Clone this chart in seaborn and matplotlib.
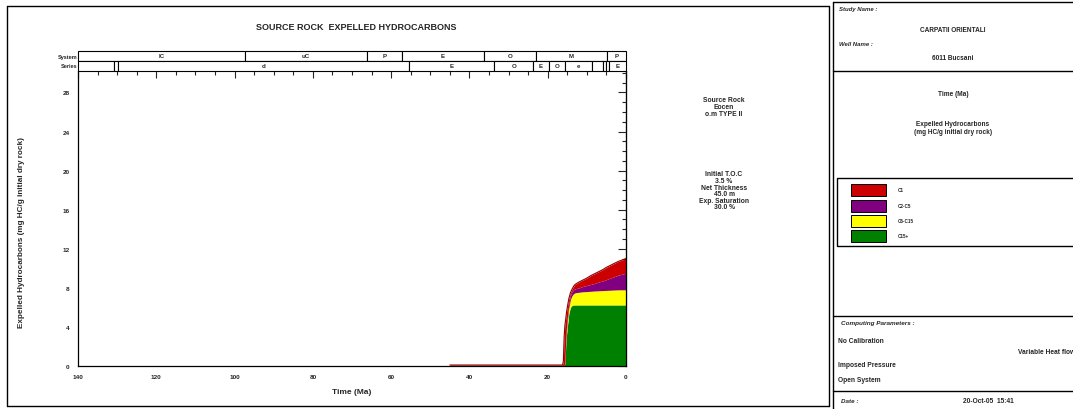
import matplotlib
matplotlib.use("Agg")
import matplotlib.pyplot as plt
from matplotlib.patches import Rectangle
from matplotlib.lines import Line2D
from matplotlib.ticker import MultipleLocator
import seaborn as sns
import pandas as pd
import numpy as np

# ---------------- data ----------------
time_ma = [45, 40, 30, 20, 16.2, 16.0, 15.8, 15.6, 15.4, 15.2, 15.0, 14.6, 14.2, 13.8,
           13.4, 13.0, 12, 11, 10, 9, 8, 7, 6, 5, 4, 3, 2, 1, 0]
c15_plus = [0, 0, 0, 0, 0, 0, 0, 0.3, 2.0, 3.2, 4.0, 5.4, 6.0, 6.2,
            6.25, 6.25, 6.25, 6.25, 6.25, 6.25, 6.25, 6.25, 6.25, 6.25, 6.25, 6.25, 6.25, 6.25, 6.25]
c6_c15 = [0, 0, 0, 0, 0, 0, 0, 0.1, 0.3, 0.4, 0.5, 0.6, 0.8, 1.0,
          1.15, 1.25, 1.3, 1.35, 1.37, 1.4, 1.43, 1.45, 1.47, 1.49, 1.51, 1.53, 1.55, 1.55, 1.55]
c2_c5 = [0, 0, 0, 0, 0, 0, 0, 0.1, 0.3, 0.4, 0.4, 0.4, 0.4, 0.4,
         0.4, 0.4, 0.45, 0.55, 0.63, 0.7, 0.77, 0.9, 0.98, 1.11, 1.24, 1.37, 1.5, 1.6, 1.7]
c1 = [0.1, 0.1, 0.1, 0.1, 0.1, 0.5, 3.0, 3.7, 2.2, 1.5, 1.1, 0.5, 0.3, 0.25,
      0.35, 0.45, 0.6, 0.65, 0.75, 0.9, 1.0, 1.05, 1.15, 1.25, 1.3, 1.35, 1.4, 1.45, 1.5]

series_names = ["C1", "C2-C5", "C6-C15", "C15+"]
series_colors = ["#cc0000", "#800080", "#ffff00", "#008000"]

system_bounds = [140, 97.3, 66.2, 57.3, 36.2, 23.0, 4.9, 0]
system_labels = ["lC", "uC", "P", "E", "O", "M", "P"]
series_bounds = [140, 130.9, 129.9, 55.4, 33.6, 23.8, 19.7, 15.6, 8.6, 5.8, 5.1, 4.3, 0]
series_labels = ["", "", "d", "E", "O", "E", "O", "e", "", "", "", "E"]

x_ticks = [140, 120, 100, 80, 60, 40, 20, 0]
y_ticks = [0, 4, 8, 12, 16, 20, 24, 28]

# ---------------- style ----------------
sns.set_style("white")
plt.rcParams["font.family"] = ["Liberation Sans", "DejaVu Sans"]
plt.rcParams["font.weight"] = "bold"

W, H = 1073, 410
fig = plt.figure(figsize=(W / 100, H / 100), dpi=100)

def fx(px):
    return px / W

def fy(py):
    return 1 - py / H

# main axes
x0, x1, ytop, ybot = 78, 626, 72, 367
ax = fig.add_axes([fx(x0), fy(ybot), fx(x1) - fx(x0), fy(ytop) - fy(ybot)])

df = pd.DataFrame({"time": time_ma, "C15+": c15_plus, "C6-C15": c6_c15,
                   "C2-C5": c2_c5, "C1": c1})
ax.stackplot(df["time"], df["C15+"], df["C6-C15"], df["C2-C5"], df["C1"],
             colors=series_colors[::-1], linewidth=0)
top = df["C15+"] + df["C6-C15"] + df["C2-C5"] + df["C1"]
sns.lineplot(x=df["time"], y=top, ax=ax, color="#8b0000", linewidth=0.8,
             estimator=None, sort=False, legend=False)

ax.set_xlim(140, 0)
ax.set_ylim(0, 30.2)
ax.set_xticks(x_ticks)
ax.set_yticks(y_ticks)
ax.xaxis.set_minor_locator(MultipleLocator(5))
ax.yaxis.set_minor_locator(MultipleLocator(1))
ax.tick_params(axis="both", which="major", direction="inout", length=8, width=0.8,
               labelsize=4.6, pad=2, top=False, right=False)
ax.tick_params(axis="x", which="minor", direction="out", length=3, width=0.8)
ax.tick_params(axis="y", which="minor", direction="in", length=3, width=0.8)
for lab in ax.get_xticklabels() + ax.get_yticklabels():
    lab.set_fontweight("bold")
for s in ax.spines.values():
    s.set_linewidth(0.9)
    s.set_color("black")
ax.spines["top"].set_visible(False)
ax.set_xlabel("Time (Ma)", fontsize=6.0, fontweight="bold", labelpad=6)
ax.set_ylabel("Expelled Hydrocarbons (mg HC/g initial dry rock)", fontsize=5.9,
              fontweight="bold")
ax.yaxis.set_label_coords(-0.097, 0.455)

secx = ax.secondary_xaxis("top")
secx.set_xticks(x_ticks)
secx.xaxis.set_minor_locator(MultipleLocator(5))
secx.tick_params(which="major", direction="in", length=5, width=0.8, labeltop=False)
secx.tick_params(which="minor", direction="in", length=3, width=0.8)
secx.spines["top"].set_visible(False)
secy = ax.secondary_yaxis("right")
secy.set_yticks(y_ticks)
secy.yaxis.set_minor_locator(MultipleLocator(1))
secy.tick_params(which="major", direction="in", length=6, width=0.8, labelright=False)
secy.tick_params(which="minor", direction="in", length=3, width=0.8)

# stratigraphic bars
sax = fig.add_axes([fx(x0), fy(ytop), fx(x1) - fx(x0), fy(52) - fy(ytop)])
sax.set_xlim(140, 0)
sax.set_ylim(0, 2)
sax.axis("off")
for row, bounds, labels in [(1, system_bounds, system_labels), (0, series_bounds, series_labels)]:
    for i, lab in enumerate(labels):
        a, b = bounds[i], bounds[i + 1]
        sax.add_patch(Rectangle((b, row), a - b, 1, facecolor="white", edgecolor="black",
                                linewidth=0.8, clip_on=False))
        if lab:
            sax.text((a + b) / 2, row + 0.5, lab, ha="center", va="center",
                     fontsize=4.4, fontweight="bold")
fig.text(fx(77), fy(57), "System", ha="right", va="center", fontsize=4.0, fontweight="bold")
fig.text(fx(77), fy(67), "Series", ha="right", va="center", fontsize=4.0, fontweight="bold")

# title
fig.text(fx(356), fy(28), "SOURCE ROCK  EXPELLED HYDROCARBONS", ha="center", va="center",
         fontsize=6.5, fontweight="bold")

# side notes
for i, t in enumerate(["Source Rock", "Eocen", "o.m TYPE II"]):
    fig.text(fx(724), fy(100.5 + 7 * i), t, ha="center", va="center", fontsize=4.9, fontweight="bold")
for i, t in enumerate(["Initial T.O.C", "3.5 %", "Net Thickness", "45.0 m",
                       "Exp. Saturation", "30.0 %"]):
    fig.text(fx(724), fy(175 + 6.6 * i), t, ha="center", va="center", fontsize=4.9, fontweight="bold")

# frames
def hline(y, xa, xb, lw=1.0):
    fig.add_artist(Line2D([fx(xa), fx(xb)], [fy(y), fy(y)], color="black", linewidth=lw))

def vline(x, ya, yb, lw=1.0):
    fig.add_artist(Line2D([fx(x), fx(x)], [fy(ya), fy(yb)], color="black", linewidth=lw))

# left panel border
hline(7, 7, 829); hline(407, 7, 829); vline(7, 7, 407); vline(829, 7, 407)
# right panel
hline(3, 833, 1073); vline(833, 3, 410)
hline(72, 833, 1073); hline(317, 833, 1073); hline(392, 833, 1073)

RS = 4.8
fig.text(fx(839), fy(10), "Study Name :", ha="left", va="center", fontsize=4.3,
         fontweight="bold", style="italic")
fig.text(fx(953), fy(31), "CARPATII ORIENTALI", ha="center", va="center", fontsize=4.7, fontweight="bold")
fig.text(fx(839), fy(45), "Well Name :", ha="left", va="center", fontsize=4.3,
         fontweight="bold", style="italic")
fig.text(fx(953), fy(59), "6011 Bucsani", ha="center", va="center", fontsize=4.7, fontweight="bold")
fig.text(fx(953), fy(94), "Time (Ma)", ha="center", va="center", fontsize=4.7, fontweight="bold")
fig.text(fx(953), fy(125), "Expelled Hydrocarbons", ha="center", va="center", fontsize=4.7, fontweight="bold")
fig.text(fx(953), fy(132), "(mg HC/g initial dry rock)", ha="center", va="center", fontsize=4.7, fontweight="bold")

# legend box
fig.add_artist(Rectangle((fx(837), fy(247)), fx(1080) - fx(837), fy(179) - fy(247),
                         facecolor="none", edgecolor="black", linewidth=1.0))
sw_y = [185, 201, 216, 231]
for name, col, yy in zip(series_names, series_colors, sw_y):
    fig.add_artist(Rectangle((fx(851), fy(yy + 12)), fx(886) - fx(851), fy(yy) - fy(yy + 12),
                             facecolor=col, edgecolor="black", linewidth=0.7))
    fig.text(fx(898), fy(yy + 6), name, ha="left", va="center", fontsize=3.3, fontweight="bold")

fig.text(fx(841), fy(323), "Computing Parameters :", ha="left", va="center", fontsize=4.6,
         fontweight="bold", style="italic")
fig.text(fx(838), fy(342), "No Calibration", ha="left", va="center", fontsize=RS, fontweight="bold")
fig.text(fx(1018), fy(353), "Variable Heat flow", ha="left", va="center", fontsize=RS, fontweight="bold")
fig.text(fx(838), fy(366), "Imposed Pressure", ha="left", va="center", fontsize=RS, fontweight="bold")
fig.text(fx(838), fy(381), "Open System", ha="left", va="center", fontsize=RS, fontweight="bold")
fig.text(fx(841), fy(402), "Date :", ha="left", va="center", fontsize=4.5,
         fontweight="bold", style="italic")
fig.text(fx(988), fy(402), "20-Oct-05  15:41", ha="center", va="center", fontsize=RS, fontweight="bold")

fig.savefig("out.png", dpi=100)
